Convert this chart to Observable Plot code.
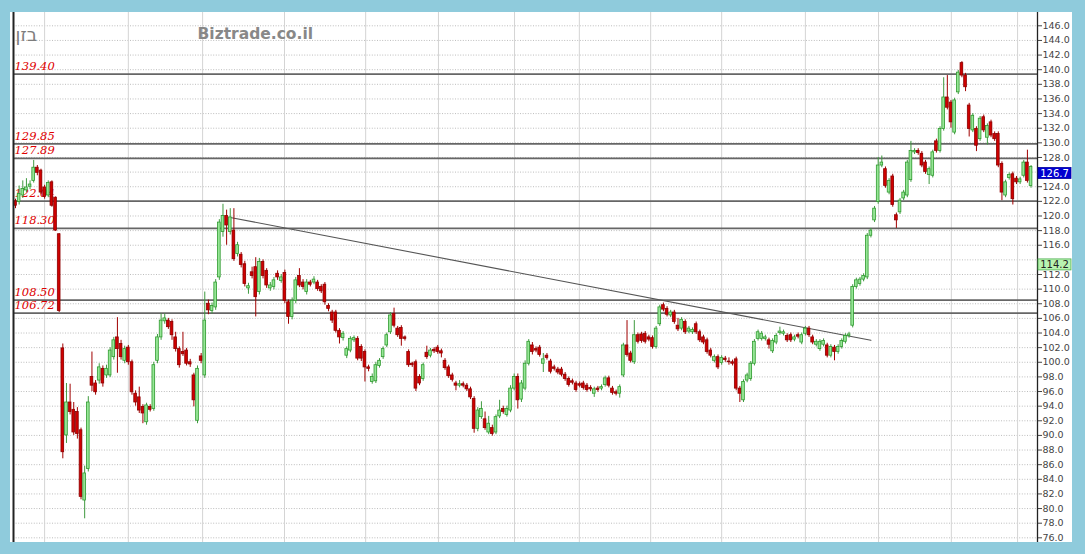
<!DOCTYPE html>
<html><head><meta charset="utf-8">
<script src="https://cdn.jsdelivr.net/npm/d3@7"></script>
<script src="https://cdn.jsdelivr.net/npm/@observablehq/plot@0.6"></script>
<style>
html,body{margin:0;padding:0;background:#8fcbdc;}
#wrap{position:relative;width:1085px;height:554px;overflow:hidden;background:#8fcbdc;}
#panel{position:absolute;left:10px;top:12px;width:1062px;height:530px;background:#fff;}
#chart{position:absolute;left:0;top:0;}
</style></head><body>
<div id="wrap"><div id="panel"></div><div id="chart"></div></div>
<script>
// daily candles (index = trading day)
const opens = [122.0,121.9,122.8,123.5,124.0,124.8,126.6,126.2,123.9,122.8,124.6,122.5,117.5,101.9,90.0,94.5,93.5,93.2,90.7,81.1,85.4,98.0,97.1,97.5,99.1,98.2,98.2,100.7,103.4,102.5,100.2,102.0,100.0,95.7,95.2,93.9,91.8,93.9,93.6,100.2,103.4,105.6,105.7,105.5,103.4,101.8,101.4,101.6,100.0,98.2,92.0,100.8,98.2,108.0,107.0,107.5,111.6,117.8,120.0,117.8,118.0,114.8,114.7,113.4,110.1,112.3,113.0,109.6,113.7,112.5,110.1,110.3,112.1,111.1,112.2,108.2,106.2,108.4,111.8,110.9,109.6,110.9,110.9,110.9,110.3,110.6,107.7,106.8,106.8,104.3,103.3,100.9,101.6,103.0,103.2,102.1,101.4,99.3,97.3,97.4,99.5,100.7,102.3,104.1,106.6,104.6,104.7,103.4,101.4,99.8,100.0,98.0,97.7,101.3,100.9,101.7,102.0,101.5,100.2,99.3,98.2,97.1,96.8,97.0,96.8,96.3,95.0,90.9,92.5,92.2,90.4,91.0,90.4,92.6,93.6,92.8,93.4,96.4,98.0,94.9,96.4,99.8,102.3,101.8,102.0,99.8,100.9,100.1,99.3,99.0,99.0,98.3,97.7,97.4,97.1,97.0,97.1,96.8,96.5,95.7,96.4,96.4,96.9,97.8,96.4,95.9,95.7,98.2,102.3,101.2,100.0,103.7,103.8,103.9,103.4,103.3,102.1,105.2,107.8,107.3,106.4,106.8,105.0,104.6,105.5,104.2,104.1,105.2,104.1,103.4,103.0,101.6,100.2,100.7,99.9,100.5,100.1,100.0,100.4,96.4,94.8,97.5,97.7,99.8,103.2,103.2,103.2,103.0,101.5,102.7,104.0,103.9,103.6,103.7,103.1,103.7,102.7,103.9,104.6,103.4,102.4,101.8,102.4,102.3,100.9,102.0,101.4,102.1,102.8,103.6,105.0,110.3,110.7,111.3,111.6,117.3,119.4,121.9,126.9,126.4,123.2,125.4,120.1,120.5,122.4,122.8,124.9,128.7,128.9,128.5,127.3,125.6,125.5,130.2,128.9,131.9,136.2,135.5,131.4,136.9,140.9,139.2,135.1,131.7,131.9,130.5,133.5,130.7,132.8,131.2,131.2,127.1,122.8,125.2,125.7,125.1,124.6,125.5,127.3,124.1];
const highs = [122.3,124.1,124.8,125.1,124.8,127.6,126.9,126.4,124.2,124.8,124.8,122.6,117.6,102.5,97.1,97.0,94.5,93.8,91.0,85.8,95.3,101.4,97.5,99.8,99.5,99.6,102.0,103.4,106.1,103.0,102.2,102.3,100.3,96.1,96.6,94.2,94.4,94.2,100.0,103.8,106.6,106.6,106.0,105.8,104.1,102.1,104.1,101.9,100.4,98.5,99.5,101.2,109.6,108.5,108.1,111.3,119.5,121.6,120.8,121.0,121.0,116.4,115.0,113.8,110.8,113.0,114.3,114.2,114.0,112.8,110.9,111.6,112.5,112.0,112.6,108.5,108.8,111.6,112.8,111.3,111.3,111.2,111.7,111.2,110.6,110.9,108.0,107.1,107.1,104.6,104.2,102.1,103.5,103.6,103.5,102.4,101.7,99.6,98.4,100.0,100.5,102.1,104.0,106.8,107.4,104.9,105.0,103.6,101.7,100.0,100.3,98.3,99.9,102.2,101.9,102.0,102.3,101.8,100.5,99.6,98.5,97.4,97.5,97.3,97.1,96.6,95.3,93.8,94.6,93.2,92.6,91.4,92.8,94.8,94.0,94.0,96.8,98.4,98.4,97.5,100.2,103.1,102.7,102.1,102.3,101.2,101.2,100.4,99.6,99.3,99.3,98.6,98.0,97.7,97.4,97.3,97.4,97.1,96.8,96.6,96.7,96.9,98.1,98.1,96.7,96.2,96.9,102.6,105.7,101.5,105.7,104.0,104.1,104.2,103.7,103.6,104.9,107.8,108.1,107.6,107.1,107.1,106.0,106.1,105.8,104.9,104.7,105.5,104.4,103.7,103.3,101.9,101.0,101.0,100.9,100.8,100.6,100.3,100.7,96.7,97.6,98.5,100.1,103.1,104.4,104.2,103.7,103.3,103.2,103.9,104.8,104.4,103.9,104.0,103.7,104.0,104.0,104.9,104.9,103.7,103.1,103.1,103.2,102.6,102.4,102.3,102.4,103.2,103.9,104.1,110.6,111.5,111.6,112.1,117.6,118.3,121.3,128.0,128.2,126.7,125.1,125.7,120.4,122.4,123.5,127.6,130.2,129.2,129.2,128.8,127.6,126.7,129.0,130.5,132.2,138.9,139.2,135.8,136.1,139.9,141.1,139.5,135.4,134.0,132.2,133.6,133.8,132.6,133.1,131.5,131.5,127.4,124.9,125.9,126.0,125.4,125.3,127.6,129.0,126.9];
const lows = [121.0,121.5,122.4,123.2,123.6,124.5,125.5,122.9,122.3,122.5,121.2,117.9,106.8,86.8,88.9,92.8,90.0,89.5,81.2,78.6,85.0,96.0,95.5,97.0,96.6,97.8,97.9,100.3,98.5,100.3,99.8,99.6,95.5,94.0,93.0,91.6,91.4,93.2,93.3,99.8,103.0,105.2,104.5,103.0,101.4,99.2,100.8,99.5,99.3,93.9,91.6,99.8,97.8,106.5,106.6,107.1,111.2,117.1,116.0,117.4,113.8,114.4,112.9,110.3,109.3,111.4,106.2,109.2,111.4,110.1,109.7,109.9,111.2,110.8,108.0,105.2,105.8,108.0,110.2,109.9,109.2,110.3,110.6,109.7,109.4,107.8,106.9,105.3,104.0,102.5,102.9,100.5,101.3,102.7,100.2,100.1,97.3,98.7,97.0,97.1,99.2,100.4,102.0,103.8,104.7,103.4,102.2,102.9,99.3,99.3,96.0,96.8,97.4,100.4,100.6,101.2,101.1,100.6,98.9,97.8,97.3,96.1,96.5,96.5,96.0,94.9,90.3,90.5,92.2,90.7,90.1,89.9,90.1,92.3,92.9,92.5,93.1,96.1,93.6,94.5,96.1,99.5,101.0,101.3,100.7,98.6,100.3,98.4,98.8,98.3,98.0,97.4,96.6,96.9,95.9,96.5,96.2,95.9,96.0,95.2,95.9,96.1,96.6,96.5,95.5,95.4,95.1,97.9,100.7,99.9,99.7,102.5,102.6,102.5,102.8,101.8,101.8,104.9,106.9,106.2,106.1,105.2,104.2,104.3,103.8,103.9,103.8,103.8,102.7,102.4,101.1,100.6,99.9,99.0,99.6,100.0,99.6,99.5,96.1,94.5,94.5,97.2,97.4,99.5,102.9,102.9,102.9,101.8,101.2,102.4,103.7,103.6,102.7,102.7,102.8,103.2,102.4,103.6,103.4,102.4,102.1,101.5,102.1,100.6,100.6,100.2,101.1,101.8,102.5,103.3,104.7,110.0,110.4,111.0,111.3,117.0,119.1,121.6,126.6,123.8,122.9,121.2,118.3,120.2,122.1,122.5,124.6,128.4,128.3,126.6,125.7,124.3,125.2,128.6,128.6,131.6,134.5,132.0,131.1,136.6,138.9,137.0,130.8,131.4,128.8,130.2,131.4,129.7,130.7,130.2,126.6,122.1,122.5,124.9,121.5,124.3,124.3,125.2,124.5,123.8];
const closes = [121.4,123.0,123.7,123.9,124.3,126.6,125.9,123.2,122.6,124.5,121.4,118.0,107.0,87.7,94.5,93.2,90.4,90.2,81.6,84.8,94.5,96.8,95.9,99.3,97.1,99.1,101.6,103.0,101.8,100.7,101.8,100.0,95.9,94.5,93.4,93.0,94.1,93.5,99.6,103.4,105.7,106.0,104.8,103.7,101.8,99.6,101.1,99.8,99.7,94.8,99.1,100.2,105.7,107.1,107.7,110.9,119.1,120.0,118.7,119.8,114.1,116.0,113.3,110.7,110.4,111.8,108.9,113.7,111.8,110.5,110.5,111.2,111.6,111.6,108.4,106.2,108.4,111.2,110.5,110.3,110.9,110.6,111.3,110.0,109.7,108.2,107.3,105.7,104.3,103.4,103.9,101.8,103.2,103.3,100.5,100.5,99.3,99.1,98.0,99.6,100.2,101.8,103.7,106.4,105.0,103.7,103.2,103.2,99.6,99.6,96.4,97.1,99.6,100.7,101.6,101.5,101.4,101.2,99.2,98.1,97.6,96.8,97.0,96.8,96.3,95.2,90.9,93.4,93.6,91.0,91.6,90.2,92.5,93.4,93.2,93.6,96.4,98.0,94.8,97.1,99.8,102.8,101.4,101.6,101.0,100.4,100.6,98.7,99.1,98.6,98.3,97.7,96.9,97.2,96.2,96.8,96.5,96.2,96.3,96.3,96.2,96.6,97.8,96.8,95.8,95.7,96.6,102.3,101.0,100.2,103.7,102.8,102.9,102.8,103.1,102.1,104.6,107.5,107.2,106.5,106.8,105.5,104.5,105.8,104.1,104.6,104.4,104.1,103.0,102.7,101.4,100.9,100.7,99.3,100.6,100.3,100.0,99.8,96.4,95.7,97.3,98.2,99.8,102.8,104.1,103.9,103.4,102.4,102.9,103.6,104.2,104.1,103.0,103.0,103.4,103.5,103.7,104.6,103.7,102.7,102.8,102.8,102.9,100.9,102.1,101.4,102.1,102.9,103.6,103.8,110.3,111.2,111.3,111.8,117.3,118.0,121.0,126.9,127.3,124.1,124.8,121.5,119.4,122.1,123.2,127.3,128.9,128.9,128.6,126.9,126.0,126.4,128.7,128.9,131.9,136.2,134.8,132.8,135.8,139.6,139.2,137.6,131.9,133.7,129.6,133.3,131.7,132.3,131.0,130.5,126.9,123.2,124.6,125.6,122.3,124.6,125.0,127.3,124.8,126.7];

// price axis ticks (labels hidden where the price markers sit) and month separators (trading-day index)
const yTicks = d3.range(76, 147, 2);
const hiddenTickLabels = [126, 114];
const monthTicks = [8, 31, 51.4, 73.9, 96.2, 116.2, 137.1, 154.9, 174.5, 194, 217, 237.1, 257.1, 275.3];

// horizontal support / resistance levels
const levelValues = [139.40, 129.85, 127.89, 122.04, 118.30, 108.50, 106.72];
const levelLabels = ["139.40", "129.85", "127.89", "122.04", "118.30", "108.50", "106.72"];

// descending trend line (day index, price)
const trendDays = [59, 235];
const trendPrices = [119.8, 103.0];

// right-side price markers
const markerValues = [126.7, 114.2];
const markerLabels = ["126.7", "114.2"];

const data = closes.map((c, i) => ({i, open: opens[i], high: highs[i], low: lows[i], close: c, up: c >= opens[i]}));
const levels = levelValues.map((v, k) => ({v, label: levelLabels[k]}));
const trend = trendDays.map((d, k) => ({i: d, v: trendPrices[k]}));
const axisTicks = yTicks.filter(t => !hiddenTickLabels.includes(t));

const xDomain = [-0.55, 280.77];
const yDomain = [75.36, 147.82];

const plot = Plot.plot({
  width: 1085, height: 554,
  marginLeft: 13, marginRight: 48, marginTop: 12, marginBottom: 12,
  style: {background: "transparent", fontFamily: "DejaVu Sans", overflow: "visible"},
  x: {domain: xDomain, axis: null},
  y: {domain: yDomain, axis: null},
  marks: [
    Plot.ruleY(yTicks, {stroke: "#bdbdbd", strokeDasharray: "1,1.6"}),
    Plot.ruleX(monthTicks, {stroke: "#d4d4d4"}),
    Plot.ruleY(levels, {y: "v", stroke: "#666", strokeWidth: 1.7}),
    Plot.text(levels, {x: xDomain[0], y: "v", text: "label", textAnchor: "start", dx: 1, dy: -8,
      fill: "#e00000", fontStyle: "italic", fontFamily: "DejaVu Serif", fontSize: 11.5}),
    Plot.line(trend, {x: "i", y: "v", stroke: "#555", strokeWidth: 1.1}),
    Plot.ruleX(data, {x: "i", y1: "low", y2: "high", stroke: d => d.up ? "#3f9a3f" : "#a00000", strokeWidth: 1}),
    Plot.rect(data, {x1: d => d.i - 0.37, x2: d => d.i + 0.37, y1: "open", y2: "close",
      fill: d => d.up ? "#96e696" : "#d00000", stroke: d => d.up ? "#2f9a2f" : "#8c0000", strokeWidth: 0.8}),
    Plot.axisY(axisTicks, {anchor: "right", tickFormat: d => d.toFixed(1), tickSize: 4, tickPadding: 1,
      fontSize: 9.5, fill: "#444", stroke: "#444"}),
    Plot.ruleX([xDomain[0]], {stroke: "#222", strokeWidth: 2}),
    Plot.ruleX([xDomain[1]], {stroke: "#222", strokeWidth: 1.3}),
    Plot.text(["בזן"], {frameAnchor: "top-left", dx: 2, dy: 23, lineAnchor: "middle", textAnchor: "start",
      fontSize: 18, fill: "#7d7d7d", fontFamily: "DejaVu Sans"}),
    Plot.text(["Biztrade.co.il"], {frameAnchor: "top-left", dx: 184, dy: 22, lineAnchor: "middle", textAnchor: "start",
      fontSize: 15.5, fontWeight: "bold", fill: "#888", fontFamily: "DejaVu Sans"})
  ]
});
document.getElementById("chart").appendChild(plot);

// price markers on the right axis, positioned with Plot's own y scale
const ys = plot.scale("y");
const yPix = v => (ys.apply ? ys.apply(v) : d3.scaleLinear(ys.domain, ys.range)(v));
const svg = d3.select(plot);
const mk = svg.append("g");
markerValues.forEach((v, k) => {
  const top = yPix(v);
  const blue = k === 0;
  mk.append("rect").attr("x", 1038).attr("y", top + 1).attr("width", 33).attr("height", 11)
    .attr("fill", blue ? "#0000d0" : "#b9f2b0").attr("stroke", blue ? "#0000a0" : "#4caf50").attr("stroke-width", 0.8);
  mk.append("text").attr("x", 1054.5).attr("y", top + 10.5).attr("text-anchor", "middle")
    .attr("font-family", "DejaVu Sans").attr("font-size", 10).attr("fill", blue ? "#fff" : "#222")
    .text(markerLabels[k]);
});
</script>
</body></html>
